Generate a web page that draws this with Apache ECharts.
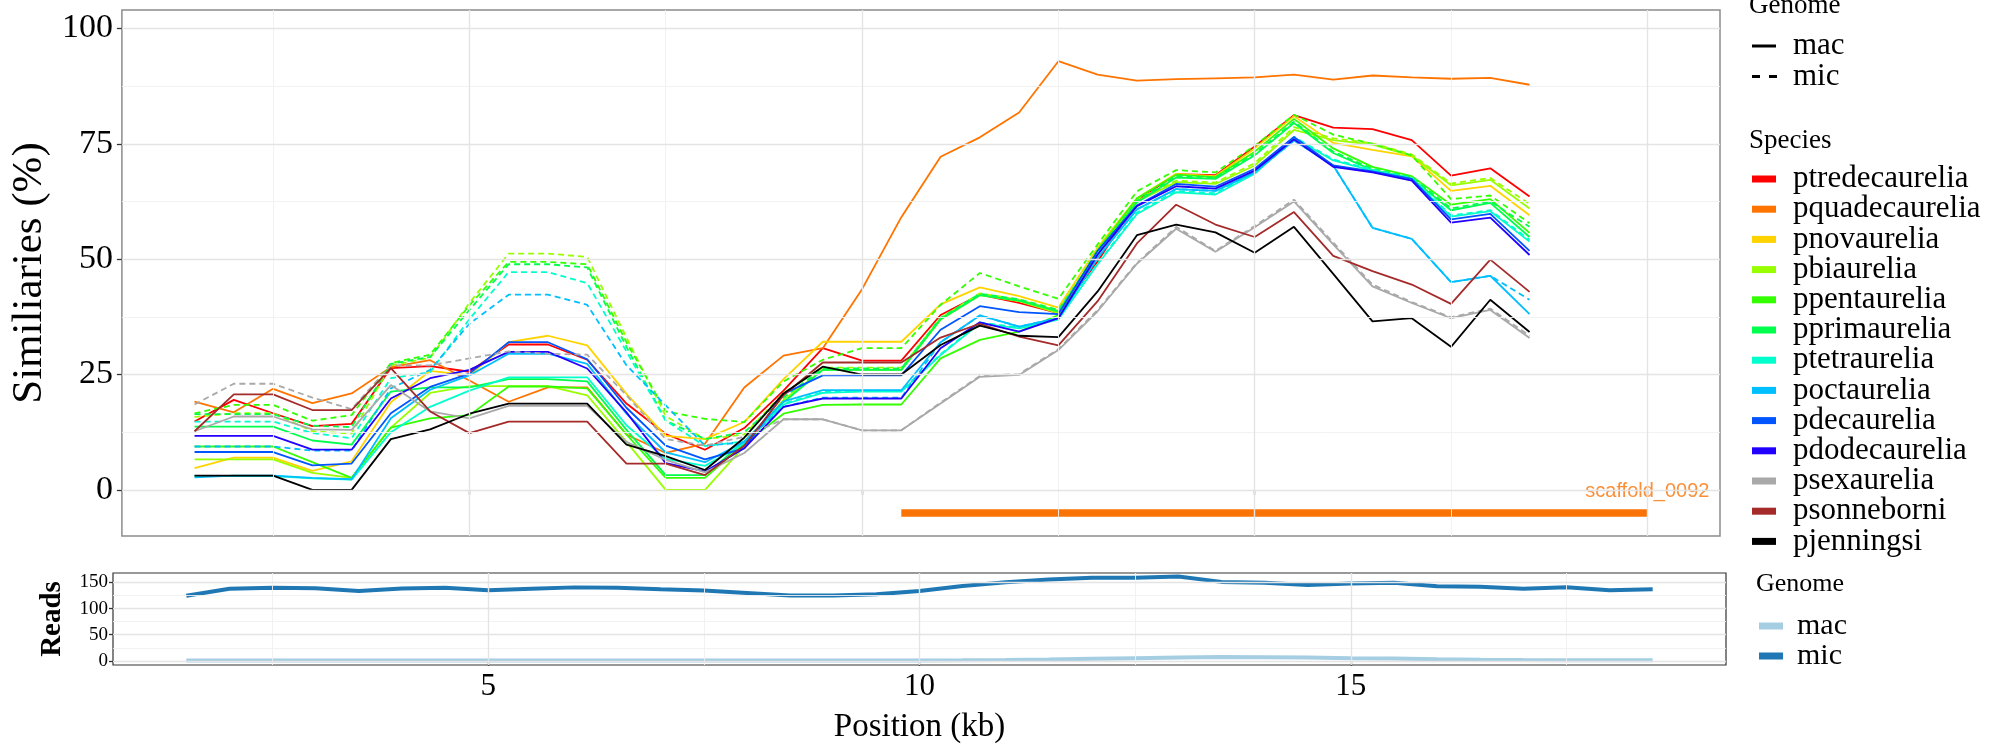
<!DOCTYPE html>
<html><head><meta charset="utf-8">
<script src="https://cdn.jsdelivr.net/npm/echarts@6/dist/echarts.min.js"></script>
<style>html,body{margin:0;padding:0;background:#fff}#c{width:2000px;height:750px}</style>
</head><body><div id="c"></div>
<script>
// ---------- data ----------
const positions = [1.5,2,2.5,3,3.5,4,4.5,5,5.5,6,6.5,7,7.5,8,8.5,9,9.5,10,10.5,11,11.5,12,12.5,13,13.5,14,14.5,15,15.5,16,16.5,17,17.5,18,18.5];

const species = ['ptredecaurelia','pquadecaurelia','pnovaurelia','pbiaurelia','ppentaurelia','pprimaurelia','ptetraurelia','poctaurelia','pdecaurelia','pdodecaurelia','psexaurelia','psonneborni','pjenningsi'];
const speciesColors = ['#FF0000','#FF7400','#FFD300','#99FF00','#33FF00','#00FF4D','#00FFCC','#00BFFF','#0055FF','#2200FF','#A9A9A9','#A52A2A','#000000'];

// mac (solid) similarity, %
const ptredecaureliaMac = [14.8,19.5,16.6,13.8,14.3,26.4,26.8,25.6,31.5,31.5,28.2,18.7,12.1,8.7,13.4,21.5,30.7,28,28,37.9,42.3,40.5,38.3,49.5,62.7,68.4,68.2,74.4,81.2,78.5,78.2,75.8,68.1,69.7,63.6];
const pquadecaureliaMac = [19.1,16.8,21.9,18.8,20.9,26.6,28.1,23.7,19.1,22.2,22.2,12,8,10,22.2,29.1,30.7,43.5,59.1,72.2,76.4,81.8,92.9,90,88.7,89,89.2,89.4,90,88.9,89.8,89.4,89.1,89.3,87.8];
const pnovaureliaMac = [4.7,7,7,4.1,6.2,19,25.8,24.8,32,33.4,31.3,20.8,11.7,11,14.7,24,32.1,32.1,32.1,40.2,43.9,42,39.5,52.5,63.2,68.5,68,74,81,75.2,73.7,72.3,64.8,65.9,59.5];
const pbiaureliaMac = [6.6,6.6,6.6,3.7,2.6,13.5,21,22.5,22.5,22.5,20.5,10.4,0,0,9.5,19.5,26,26,26,36.9,42.2,40.9,38.3,51.8,62.5,66.7,66.3,70.3,78,75.8,74.8,72.4,66,67.2,61];
const ppentaureliaMac = [9.4,9.4,9.4,6,2.6,13.5,15.5,16.2,22.4,22.4,22,12,2.6,2.6,10,16.5,18.4,18.5,18.5,28.5,32.5,34.3,37.9,52,63.2,68.3,67.8,73.3,80.4,74,70,68,61.8,63,55.7];
const pprimaureliaMac = [13.7,13.7,13.7,10.7,9.8,21.3,22.2,22.2,24,24,23.5,13,3.2,3.2,10.5,19,26,26,26,37,42.2,41,38.7,51,62.3,67.7,67.4,72.5,79.5,73,69.3,67.5,60.6,62.2,54.8];
const ptetraureliaMac = [3,3,3,2.5,2.2,12.5,18,21.5,24.4,24.4,24.4,14,6.7,5.2,10,18.5,21,21.3,21.3,29.2,36.1,35,36.9,48.9,59.8,64.5,64,68.5,76.3,71.4,69.2,67.4,59.2,60.4,53.8];
const poctaureliaMac = [2.7,3.1,3.1,2.6,2.3,15.5,21.7,24.8,29.5,29.5,27.3,16.5,8.1,6,10.4,19.2,21.6,21.6,21.6,32,37.8,35.4,37.2,50.3,60.8,65.2,64.8,68.8,75.7,70.3,56.8,54.4,45,46.4,38.1];
const pdecaureliaMac = [8.2,8.2,8.2,5.3,5.7,16.6,22.3,25.2,32,32,28.3,17.8,9.6,6.6,9,20.8,24.8,24.8,24.8,34.7,39.8,38.5,38.1,51.8,61.6,66.3,65.7,69.6,76.5,70.3,69,67.4,58.6,59.8,51.8];
const pdodecaureliaMac = [11.7,11.7,11.7,8.7,8.7,19.8,24.2,26,29.9,29.9,26.3,16.8,5.8,4,9,18,19.8,19.8,19.8,30.7,36.3,34.3,37.2,51,61.5,65.8,65.3,69.2,76,70,68.8,67,57.9,59,50.9];
const psexaureliaMac = [12.7,15.9,15.9,13.1,13,22.7,17,15.5,18.2,18.2,18.2,10.4,6.5,3.8,8,15.3,15.3,12.9,12.9,18.7,24.5,24.9,30.3,38.7,49,56.6,51.6,56.9,62.5,53.2,44.1,40.5,37.2,39,32.9];
const psonneborniMac = [12.7,20.7,20.7,17.3,17.3,26.4,17,12.3,14.8,14.8,14.8,5.7,5.7,3.2,9.6,20.5,27.6,27.6,27.6,33,36,33.2,31.3,40.9,53.4,61.8,57.5,54.8,60.2,50.7,47.4,44.5,40.3,49.9,42.9];
const pjenningsiMac = [3.1,3.1,3.1,0,0,11,13.1,16.5,18.7,18.7,18.7,9.8,7.3,4.3,11.3,20.9,26.7,25,25,31.4,35.6,33.4,33.1,43,55.2,57.5,55.8,51.4,57,46.8,36.5,37.2,31,41.2,34.2];

// mic (dashed) similarity, %, where distinguishable
const psexaureliaMic = [18.5,23,23,20,17.5,27,27,28.5,30,29.5,29.3,20.5,11,9.6,11.5,15.3,15.3,12.9,12.9,18.9,24.7,25.1,30.5,39,49.2,57,51.8,57.2,62.9,53.6,44.5,40.7,37.4,39.3,33.4];
const pbiaureliaMic = [15.8,16.6,16.6,12.7,12.2,27,28.6,40.5,51.2,51.2,50.5,33,16,11,12,21,26.5,26.5,26.5,37.2,42.6,41.2,38.8,52.2,63,67,66.6,70.8,78.6,76.2,75.1,72.7,66.4,67.6,62];
const ppentaureliaMic = [16.6,18.4,18.4,15,16.2,27.5,29.3,40,49.4,49.4,48.9,32,17,15.4,14.7,23.5,28.2,30.7,30.7,40.1,47,44.1,41.4,53.2,64.7,69.3,68.8,74.6,81.3,77,75,72.5,63,63.8,57.8];
const pprimaureliaMic = [16.4,16.4,16.4,13.9,13.6,27.3,28.8,39,48.9,48.9,48.2,31,15,11,12.5,20,26.3,26.3,26.3,37.3,42.5,41.3,39,51.3,62.6,68,67.7,72.8,79.8,73.3,69.6,67.8,61,62.5,57];
const ptetraureliaMic = [14.8,14.8,14.8,12.3,11.2,24.2,25.5,37,47.2,47.2,44.8,30,15,9.5,10.5,18.7,21.2,21.5,21.5,29.4,36.3,35.2,37.1,49.1,60.1,64.8,64.3,68.8,76.5,71.6,69.4,67.6,59.5,60.6,54.2];
const poctaureliaMic = [9.4,9.4,9.4,8.5,8.5,22,26,36,42.3,42.3,40.1,27,18.3,9.6,10.3,18,20,20,20,32,37.8,35.4,37.2,50.3,60.8,65.2,64.8,68.8,75.7,70.3,56.8,54.4,45,46.4,41.2];

// reads (bottom panel)
const macReads = [0.8,0.7,0.8,0.8,0.7,0.8,0.8,0.7,0.8,0.8,0.8,0.7,0.8,0.8,0.7,0.8,0.8,0.8,0.9,1.5,2.5,3.8,5,6.2,7.2,7,6.2,5,4.2,3,2,1.5,1.2,1,1];
const micReads = [124.5,138,140,138.7,133.7,138.5,139.7,135,138,140.5,140,136.8,134.4,129.7,125,125,127.5,133.7,143,150.5,155.6,158.7,158.7,161.5,151,149.4,145,148,149.4,142.5,141.5,137.8,140.6,135,136.8];

// scaffold annotation
const scaffoldName = 'scaffold_0092';
const scaffoldStart = 10.5, scaffoldEnd = 20, scaffoldY = -5;

// axis ticks
const topXTicks = [5,10,15,20];
const topXMinor = [2.5,7.5,12.5,17.5];
const topYTicks = [0,25,50,75,100];
const topYMinor = [12.5,37.5,62.5,87.5];
const botXTicks = [5,10,15];
const botXMinor = [2.5,7.5,12.5,17.5];
const botYTicks = [0,50,100,150];
const botYMinor = [25,75,125];

// ---------- chart ----------
const macArrays = [ptredecaureliaMac,pquadecaureliaMac,pnovaureliaMac,pbiaureliaMac,ppentaureliaMac,pprimaureliaMac,ptetraureliaMac,poctaureliaMac,pdecaureliaMac,pdodecaureliaMac,psexaureliaMac,psonneborniMac,pjenningsiMac];
const micArrays = [null,null,null,pbiaureliaMic,ppentaureliaMic,pprimaureliaMic,ptetraureliaMic,poctaureliaMic,null,null,psexaureliaMic,null,null];

const SERIF = '"Liberation Serif","Times New Roman",serif';
const pairs = arr => positions.map((x, i) => [x, arr[i]]);

function gridLines(xi, yi, xMaj, xMin, yMaj, yMin) {
  const maj = {color:'#E4E4E4', width:1.4, type:'solid'};
  const mn = {color:'#F0F0F0', width:0.9, type:'solid'};
  const d = [];
  xMin.forEach(v => d.push({xAxis: v, lineStyle: mn}));
  yMin.forEach(v => d.push({yAxis: v, lineStyle: mn}));
  xMaj.forEach(v => d.push({xAxis: v, lineStyle: maj}));
  yMaj.forEach(v => d.push({yAxis: v, lineStyle: maj}));
  return {type:'line', name:'_grid'+xi, xAxisIndex:xi, yAxisIndex:yi, data:[], z:1, silent:true, showSymbol:false,
    markLine:{silent:true, symbol:['none','none'], label:{show:false}, lineStyle:{type:'solid'}, emphasis:{disabled:true}, animation:false, data:d}};
}

const series = [];
series.push(gridLines(0,0,topXTicks,topXMinor,topYTicks,topYMinor));
series.push(gridLines(1,1,botXTicks,botXMinor,botYTicks,botYMinor));

species.forEach((sp, k) => {
  series.push({type:'line', name:sp, xAxisIndex:0, yAxisIndex:0, data:pairs(macArrays[k]), showSymbol:false, symbol:'none',
    z:2, color:speciesColors[k], lineStyle:{color:speciesColors[k], width:1.8, type:'solid'}, emphasis:{disabled:true}});
  if (micArrays[k]) {
    series.push({type:'line', name:sp, xAxisIndex:0, yAxisIndex:0, data:pairs(micArrays[k]), showSymbol:false, symbol:'none',
      z:2, color:speciesColors[k], lineStyle:{color:speciesColors[k], width:1.8, type:[6,4]}, emphasis:{disabled:true}});
  }
});

series.push({type:'line', name:'_scaffold', xAxisIndex:0, yAxisIndex:0, data:[[scaffoldStart, scaffoldY],[scaffoldEnd, scaffoldY]],
  showSymbol:false, symbol:'none', z:3, lineStyle:{color:'#F97306', width:7.5, cap:'butt'}, emphasis:{disabled:true}});
series.push({type:'scatter', name:'_scaffoldLabel', xAxisIndex:0, yAxisIndex:0, data:[[scaffoldEnd, scaffoldY]], symbolSize:1,
  itemStyle:{color:'rgba(0,0,0,0)'}, z:4, silent:true,
  label:{show:true, position:'top', distance:11, formatter:scaffoldName, color:'#F97306', fontSize:20, fontFamily:'"Liberation Sans",Arial,sans-serif'}});

series.push({type:'line', name:'mac', xAxisIndex:1, yAxisIndex:1, data:pairs(macReads), showSymbol:false, symbol:'none', z:2,
  color:'#A6CEE3', lineStyle:{color:'#A6CEE3', width:4}, emphasis:{disabled:true}});
series.push({type:'line', name:'mic', xAxisIndex:1, yAxisIndex:1, data:pairs(micReads), showSymbol:false, symbol:'none', z:2,
  color:'#1F78B4', lineStyle:{color:'#1F78B4', width:4}, emphasis:{disabled:true}});

const tickStyle = {color:'#333', width:1.3};

const option = {
  animation:false,
  backgroundColor:'#fff',
  grid:[
    {left:113, top:10, width:1607, height:526, show:true, borderColor:'#8c8c8c', borderWidth:1.5, backgroundColor:'#fff'},
    {left:113, top:573, width:1613, height:92, show:true, borderColor:'#333', borderWidth:1.2, backgroundColor:'#fff'}
  ],
  xAxis:[
    {gridIndex:0, type:'value', min:0.575, max:20.925, axisLine:{show:false}, splitLine:{show:false},
      axisTick:{show:true, customValues:topXTicks, length:5, lineStyle:tickStyle}, axisLabel:{show:false}},
    {gridIndex:1, type:'value', min:0.65, max:19.35, axisLine:{show:false}, splitLine:{show:false},
      axisTick:{show:true, customValues:botXTicks, length:5, lineStyle:tickStyle},
      axisLabel:{show:true, customValues:botXTicks, fontSize:31, fontFamily:SERIF, color:'#000', margin:6},
      name:'Position (kb)', nameLocation:'middle', nameGap:46, nameTextStyle:{fontSize:33, fontFamily:SERIF, color:'#000'}}
  ],
  yAxis:[
    {gridIndex:0, type:'value', min:-10, max:104, axisLine:{show:false}, splitLine:{show:false},
      axisTick:{show:true, customValues:topYTicks, length:5, lineStyle:tickStyle},
      axisLabel:{show:true, customValues:topYTicks, fontSize:34, fontFamily:SERIF, color:'#000', margin:9},
      name:'Similiaries (%)', nameLocation:'middle', nameGap:60, nameTextStyle:{fontSize:43, fontFamily:SERIF, color:'#000'}},
    {gridIndex:1, type:'value', min:-8, max:168, axisLine:{show:false}, splitLine:{show:false},
      axisTick:{show:true, customValues:botYTicks, length:4, lineStyle:tickStyle},
      axisLabel:{show:true, customValues:botYTicks, fontSize:19, fontFamily:SERIF, color:'#000', margin:5},
      name:'Reads', nameLocation:'middle', nameGap:46, nameTextStyle:{fontSize:29, fontWeight:'bold', fontFamily:SERIF, color:'#000'}}
  ],
  legend:[
    {orient:'vertical', left:1752, top:163.5, padding:0, itemWidth:24, itemHeight:7, itemGap:-0.8, icon:'rect', selectedMode:false,
      itemStyle:{borderWidth:0}, data:species,
      textStyle:{fontFamily:SERIF, fontSize:31, color:'#000', padding:[0,0,0,12]}},
    {orient:'vertical', left:1759, top:611, padding:0, itemWidth:24, itemHeight:7, itemGap:0, icon:'rect', selectedMode:false,
      itemStyle:{borderWidth:0}, data:['mac','mic'],
      textStyle:{fontFamily:SERIF, fontSize:30, color:'#000', lineHeight:28, padding:[0,0,0,9]}}
  ],
  graphic:[
    {type:'text', x:1749, y:6, style:{text:'Genome', font:'27px ' + SERIF, fill:'#000', verticalAlign:'middle'}},
    {type:'line', shape:{x1:1752, y1:46, x2:1776, y2:46}, style:{stroke:'#000', lineWidth:3}},
    {type:'line', shape:{x1:1752, y1:76.5, x2:1777, y2:76.5}, style:{stroke:'#000', lineWidth:3, lineDash:[8,9]}},
    {type:'text', x:1793, y:46, style:{text:'mac', font:'31px ' + SERIF, fill:'#000', verticalAlign:'middle'}},
    {type:'text', x:1793, y:76.5, style:{text:'mic', font:'31px ' + SERIF, fill:'#000', verticalAlign:'middle'}},
    {type:'text', x:1749, y:141, style:{text:'Species', font:'27px ' + SERIF, fill:'#000', verticalAlign:'middle'}},
    {type:'text', x:1756, y:584, style:{text:'Genome', font:'26px ' + SERIF, fill:'#000', verticalAlign:'middle'}}
  ],
  series:series
};

const chart = echarts.init(document.getElementById('c'), null, {renderer:'canvas'});
chart.setOption(option);
</script></body></html>
